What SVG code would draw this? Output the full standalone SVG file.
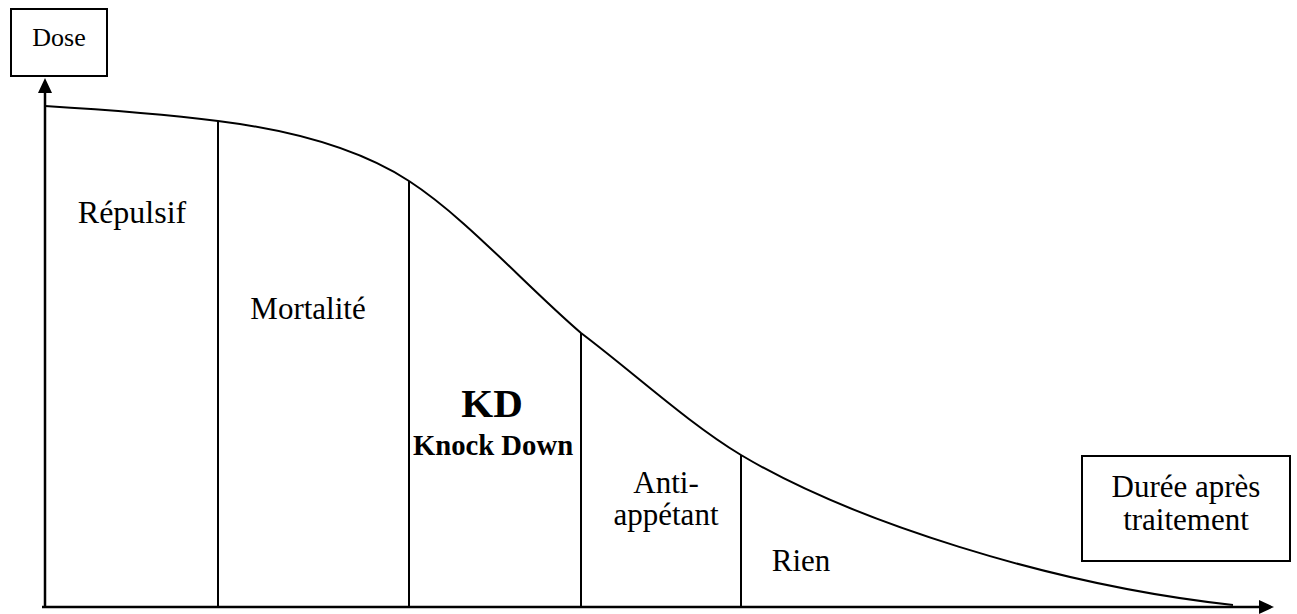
<svg xmlns="http://www.w3.org/2000/svg" width="1297" height="614" viewBox="0 0 1297 614">
<style>
.ln{fill:none;stroke:#000;stroke-width:2}
.ax{fill:none;stroke:#000;stroke-width:2.5}
.box{fill:#fff;stroke:#000;stroke-width:2}
.t{fill:#000;text-anchor:middle}
.ah{fill:#000}
</style>
<rect width="1297" height="614" fill="#fff"/>
<g id="connectors">
<line class="ax" x1="45" y1="607" x2="45" y2="90"/>
<polygon class="ah" points="45,78 38,93 52,93"/>
<line class="ax" x1="42" y1="607" x2="1262" y2="607"/>
<polygon class="ah" points="1274,607 1259,600 1259,614"/>
<path id="curve" class="ln" d="M45,106 C110,110 170,115 218,121 C282,129 355,146 409,181 C466,218 524,284 581,333 C634,373 688,423 741,455 C850,520 1050,585 1233,605"/>
<line class="ln" x1="218" y1="121" x2="218" y2="607"/>
<line class="ln" x1="409" y1="181" x2="409" y2="607"/>
<line class="ln" x1="581" y1="333" x2="581" y2="607"/>
<line class="ln" x1="741" y1="455" x2="741" y2="607"/>
</g>
<g font-family="'Liberation Serif', 'Times New Roman', 'DejaVu Serif', serif">
<g id="dose">
<rect class="box" x="11" y="9" width="96" height="67"/>
<text class="t" x="59" y="46" font-size="26">Dose</text>
</g>
<g id="duree">
<rect class="box" x="1082" y="456" width="208" height="105"/>
<text class="t" x="1186" y="497" font-size="31">Durée après</text>
<text class="t" x="1186" y="530" font-size="31">traitement</text>
</g>
<g id="repulsif">
<text class="t" x="132" y="223" font-size="32">Répulsif</text>
</g>
<g id="mortalite">
<text class="t" x="308" y="319" font-size="31">Mortalité</text>
</g>
<g id="kd">
<text class="t" x="492" y="417" font-size="41" font-weight="bold">KD</text>
<text class="t" x="493" y="455" font-size="28.7" font-weight="bold">Knock Down</text>
</g>
<g id="antiappetant">
<text class="t" x="666" y="493" font-size="31">Anti-</text>
<text class="t" x="666" y="525" font-size="31">appétant</text>
</g>
<g id="rien">
<text class="t" x="801" y="571" font-size="31">Rien</text>
</g>
</g>
</svg>
